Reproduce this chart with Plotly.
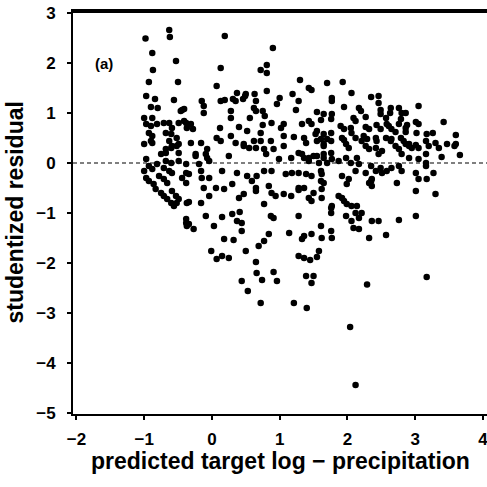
import plotly.graph_objects as go

# predicted target log-precipitation (x) and studentized residual (y)
pred = [
    # top-left
    -0.98, -0.63, -0.62, -0.88, -0.53, -0.87, -0.93, -0.50, -0.97, -0.84, -0.56, -0.90, -0.80, -0.44, -0.46,
    -1.00, -0.88, -0.97, -0.90, -0.81, -0.71, -0.63, -0.59, -0.49, -0.38, -0.37, -0.93, -0.88, -0.90, -1.00,
    -0.68, -0.60, -0.63, -0.52, -0.49, -0.60, -0.68,
    # left cluster around zero
    -0.88, -0.68, -0.59, -0.52, -0.49, -0.75, -0.97, -0.93, -0.88, -0.81, -0.71, -0.63, -0.59, -0.68, -0.60,
    -0.49, -0.38, -1.00, -0.97, -0.93, -0.86, -0.78, -0.71, -0.66, -0.83, -0.75, -0.71, -0.66, -0.60, -0.56,
    -0.59, -0.53, -0.49, -0.52, -0.38, -0.37, -0.37, -0.24, -0.09, -0.04, -0.19, -0.15, -0.04, -0.44, -0.38,
    # middle top
    0.19, 0.90, 0.13, 0.81, 0.72, 0.81, 1.30, 1.70, 0.07, 1.43, 1.47, 0.81, 0.37, 0.50, 0.63, 1.19, 1.77, 1.77,
    -0.15, -0.12, -0.12, 0.13, 0.19, 0.31, 0.35, 0.46, 0.49, 0.65, 0.62, 0.65, 1.00, 0.96, 1.28, -0.41, 0.28,
    0.28, 0.75, 0.78, 1.24, 1.55, 1.65, 1.77, 0.56, -0.41, -0.31, -0.28, 0.12, 0.40, 0.52, 0.75, 0.88, 1.06,
    1.02, 1.33, 1.43, 1.47, 1.61, 1.55, 1.65, 1.76, 1.70, 0.07, 0.13, 0.28, 0.72, 0.72, 1.06, 1.21, 1.36, 0.87,
    -0.31, -0.16, 0.35, 0.47, 0.62,
    # right top
    1.93, 2.06, 2.35, 2.46, 2.46, 3.05, 1.95, 2.17, 2.20, 2.49, 2.64, 2.63, 2.80, 1.76, 2.09, 2.12, 2.27, 2.57,
    2.79, 3.42, 3.01, 3.05, 1.90, 1.95, 2.05, 2.27, 2.32, 2.43, 2.49, 2.61, 2.65, 2.71, 2.88, 2.86, 3.26, 3.60,
    3.02, 1.92, 1.95, 2.12, 2.24, 2.29, 2.42, 2.43, 2.57, 2.65, 2.79, 2.83, 3.16, 3.30, 3.47, 3.60, 2.91, 3.01,
    # right dense band
    2.49, 2.76, 2.86, 2.06, 2.58, 2.76, 2.86, 3.17, 1.39, 1.53, 1.61, 1.65, 1.76, 1.98, 2.02, 2.21, 2.27, 2.32,
    2.42, 2.46, 2.51, 2.64, 2.71, 2.76, 2.80, 2.86, 2.95, 3.05, 3.16, 1.28, 1.36, 1.43, 1.50, 1.58, 1.65, 1.70,
    1.77, 1.87, 1.98, 2.05, 2.14, 2.17, 2.35, 2.42, 2.49, 2.58, 2.65, 2.76, 1.28, 1.39, 1.47, 1.62, 1.65, 2.02,
    2.27, 2.35, 3.01, 1.36, 1.50, 1.62, 1.77, 1.92, 2.06, 1.28, 2.36,
    3.05, 3.20, 3.35, 3.58, 2.91, 3.16, 3.39, 3.66, 2.91, 2.12, 2.80, 2.51,
    3.16, 3.27, 3.17, 3.05, 1.92, 1.99, 2.32, 2.36, 2.73, 3.01, 3.30, 1.87, 1.95, 1.99, 2.14, 2.21, 2.12, 2.17,
    2.06, 1.98, 2.36, 2.46, 2.76, 3.01, 2.09, 2.17, 2.32, 2.57, 3.17, 2.29, 2.04, 2.12,
    # middle lower
    -0.07, 0.65, 0.77, 0.91, 1.06, 0.47, 0.55, -0.24, -0.07, 0.25, 0.80, 0.99, 1.17, 1.33, 1.43, 1.55, 1.65,
    1.76, 1.55, 1.65, -0.38, -0.34, -0.16, 0.15, 0.37, 0.52, 0.66, 0.77, 0.88, 1.09, 1.18, 1.61, 1.61,
    -0.12, 0.06, 0.18, 0.30, 0.59, 0.65, 0.65, 0.84, 0.88, 0.94, 1.06, 1.17, 1.28, 1.43, 1.47, 1.62,
    -0.04, -0.16, -0.34, 0.40, 0.47, 0.77, 0.87, 0.91, 1.28, 1.76, 1.76,
    -0.38, -0.34, -0.27, -0.09, 0.03, 0.15, 0.30, 0.41, 0.37, 0.44, 0.44, 0.84, 1.14, 1.33, 1.36, 1.47, 1.61,
    1.62, 1.76, 1.77, 0.18, 0.32, 0.77, 0.69, -0.01, 0.07, 0.15, 0.25, 0.50, 0.65, 1.28, 1.36, 1.45, 1.58,
    1.55, 0.66, 0.74, 0.91, 0.96, 0.44, 1.39, 1.50, 1.47, 0.53, 0.72, 1.21, 1.40,
]
resid = [
    # top-left
    2.49, 2.66, 2.52, 2.20, 2.04, 1.86, 1.62, 1.62, 1.34, 1.28, 1.26, 1.12, 1.10, 1.06, 1.04,
    0.90, 0.90, 0.78, 0.74, 0.78, 0.80, 0.80, 0.70, 0.80, 0.80, 0.70, 0.60, 0.54, 0.44, 0.38,
    0.60, 0.58, 0.44, 0.50, 0.38, 0.30, 0.20,
    # left cluster around zero
    0.40, 0.28, 0.34, 0.34, 0.20, 0.18, 0.08, -0.06, -0.12, -0.02, -0.10, -0.16, -0.20, 0.04, 0.00,
    0.04, -0.02, -0.16, -0.30, -0.36, -0.42, -0.26, -0.32, -0.40, -0.52, -0.60, -0.66, -0.72, -0.80, -0.86,
    -0.56, -0.66, -0.72, -0.80, -1.20, -1.26, -0.80, 0.18, 0.18, 0.04, -0.02, -0.30, -0.30, -0.30, -0.40,
    # middle top
    2.54, 2.30, 1.90, 1.96, 1.86, 1.80, 1.66, 1.60, 1.54, 1.50, 1.46, 1.44, 1.40, 1.38, 1.38, 1.38, 1.30, 1.24,
    1.24, 1.14, 1.00, 1.24, 1.26, 1.28, 1.24, 1.28, 1.34, 1.24, 1.10, 1.04, 1.30, 1.18, 1.24, 1.08, 1.04,
    0.90, 1.04, 0.94, 1.06, 1.02, 0.98, 0.98, 0.90, 0.84, 0.78, 0.68, 0.70, 0.72, 0.64, 0.76, 0.80, 0.78,
    0.70, 0.78, 0.84, 0.78, 0.86, 0.64, 0.58, 0.60, 0.48, 0.50, 0.44, 0.54, 0.60, 0.44, 0.54, 0.52, 0.50, 0.44,
    0.40, 0.40, 0.40, 0.38, 0.44,
    # right top
    1.62, 1.40, 1.32, 1.34, 1.20, 1.14, 1.12, 1.10, 1.04, 1.06, 1.10, 1.00, 1.00, 0.88, 0.90, 0.84, 0.92, 0.90,
    0.88, 0.82, 0.82, 0.78, 0.74, 0.68, 0.70, 0.72, 0.68, 0.76, 0.68, 0.74, 0.68, 0.62, 0.76, 0.62, 0.60, 0.56,
    0.60, 0.50, 0.46, 0.50, 0.54, 0.48, 0.50, 0.44, 0.50, 0.48, 0.50, 0.44, 0.44, 0.40, 0.38, 0.38, 0.38, 0.36,
    # right dense band
    0.98, 1.10, 1.00, 0.60, 0.78, 0.78, 0.70, 0.58, 0.40, 0.58, 0.48, 0.38, 0.44, 0.38, 0.30, 0.44, 0.34, 0.28,
    0.30, 0.18, 0.24, 0.44, 0.34, 0.28, 0.18, 0.38, 0.30, 0.08, 0.00, 0.20, 0.10, 0.04, 0.14, 0.00, 0.10, 0.00,
    0.08, 0.04, 0.10, 0.00, 0.10, -0.02, -0.06, -0.16, -0.10, -0.16, -0.10, -0.06, -0.20, -0.22, -0.26, -0.22, -0.40, -0.32,
    -0.20, -0.36, -0.20, -0.50, -0.60, -0.70, -0.86, -0.70, -0.86, -0.50, -0.32,
    0.30, 0.34, 0.30, 0.34, 0.34, 0.18, 0.12, 0.16, 0.10, -0.16, -0.16, -0.20,
    -0.06, -0.20, -0.32, -0.32, -0.26, -0.42, -0.40, -0.46, -0.40, -0.56, -0.62, -0.66, -0.76, -0.82, -0.86, -1.00, -1.00, -1.10,
    -1.16, -1.06, -1.16, -1.16, -1.14, -1.06, -1.30, -1.32, -1.50, -1.44, -2.28, -2.43, -3.28, -4.44,
    # middle lower
    0.28, 0.30, 0.28, 0.28, 0.34, 0.34, 0.30, 0.14, 0.10, 0.14, 0.18, 0.08, 0.10, 0.18, 0.10, 0.14, 0.18,
    0.20, 0.44, 0.34, -0.20, -0.22, -0.16, -0.16, -0.20, -0.26, -0.26, -0.16, -0.16, -0.22, -0.20, -0.16, -0.36,
    -0.50, -0.50, -0.52, -0.42, -0.36, -0.50, -0.56, -0.46, -0.60, -0.66, -0.62, -0.66, -0.54, -0.70, -0.76, -0.52,
    -0.66, -0.80, -0.78, -0.70, -0.62, -0.82, -1.06, -1.10, -1.06, -0.90, -1.00,
    -1.12, -1.22, -1.32, -1.06, -1.26, -1.08, -1.02, -0.98, -1.16, -1.20, -1.36, -1.42, -1.40, -1.52, -1.46, -1.42, -1.26,
    -1.50, -1.36, -1.50, -1.52, -1.54, -1.56, -1.66, -1.76, -1.92, -1.86, -1.90, -1.76, -1.98, -1.86, -1.90, -1.94, -1.76,
    -1.88, -2.20, -2.34, -2.18, -2.36, -2.36, -2.26, -2.26, -2.40, -2.56, -2.80, -2.80, -2.90,
]
assert len(pred) == len(resid)

x_ticks = [-2, -1, 0, 1, 2, 3, 4]
y_ticks = [-5, -4, -3, -2, -1, 0, 1, 2, 3]


def tick_text(vals):
    return ["<b>" + str(v).replace("-", "\u2212") + "</b>" for v in vals]


fig = go.Figure()
fig.add_trace(go.Scatter(
    x=pred, y=resid, mode="markers",
    marker=dict(color="black", size=6.5, line=dict(width=0)),
    showlegend=False, cliponaxis=False,
))

# dashed zero line
fig.add_shape(type="line", xref="paper", x0=0, x1=1, yref="y", y0=0, y1=0,
              line=dict(color="black", width=1.2, dash="4px,3px"))
# top frame line
fig.add_shape(type="line", xref="paper", x0=0, x1=1, yref="paper", y0=0.998, y1=0.998,
              line=dict(color="black", width=2.5), layer="above")

fig.add_annotation(x=-1.59, y=2.0, text="<b>(a)</b>", showarrow=False,
                   font=dict(family="Liberation Sans", size=15, color="black"))

tick_font = dict(family="Liberation Sans", size=17, color="black")
title_font = dict(family="Liberation Sans", size=23, color="black")

# axis titles as annotations so they sit where the original has them
fig.add_annotation(xref="paper", yref="paper", x=0.5, y=0, yshift=-47,
                   xanchor="center", yanchor="middle", showarrow=False,
                   text="<b>predicted target log \u2212 precipitation</b>", font=title_font)
fig.add_annotation(xref="paper", yref="paper", x=0, y=0.5, xshift=-59,
                   xanchor="center", yanchor="middle", showarrow=False, textangle=-90,
                   text="<b>studentized residual</b>", font=title_font)

fig.update_layout(
    width=487, height=487,
    margin=dict(l=73, r=0, t=11, b=73),
    paper_bgcolor="white", plot_bgcolor="white",
    xaxis=dict(
        range=[-2.05, 4.06], tickvals=x_ticks, ticktext=tick_text(x_ticks),
        automargin=False, showgrid=False, zeroline=False,
        showline=True, linecolor="black", linewidth=2, mirror=True,
        ticks="outside", ticklen=4, tickwidth=1.5, tickcolor="black",
        ticklabelstandoff=5, ticklabeloverflow="allow", tickfont=tick_font,
    ),
    yaxis=dict(
        range=[-5.02, 3.04], tickvals=y_ticks, ticktext=tick_text(y_ticks),
        automargin=False, showgrid=False, zeroline=False,
        showline=True, linecolor="black", linewidth=2,
        ticks="outside", ticklen=4, tickwidth=1.5, tickcolor="black",
        ticklabelstandoff=8, ticklabeloverflow="allow", tickfont=tick_font,
    ),
)

# drop the default 8px page margin so the 487px figure fills the window
fig.write_html("out.html", config={"displayModeBar": False},
               post_script="document.body.style.margin='0';")
